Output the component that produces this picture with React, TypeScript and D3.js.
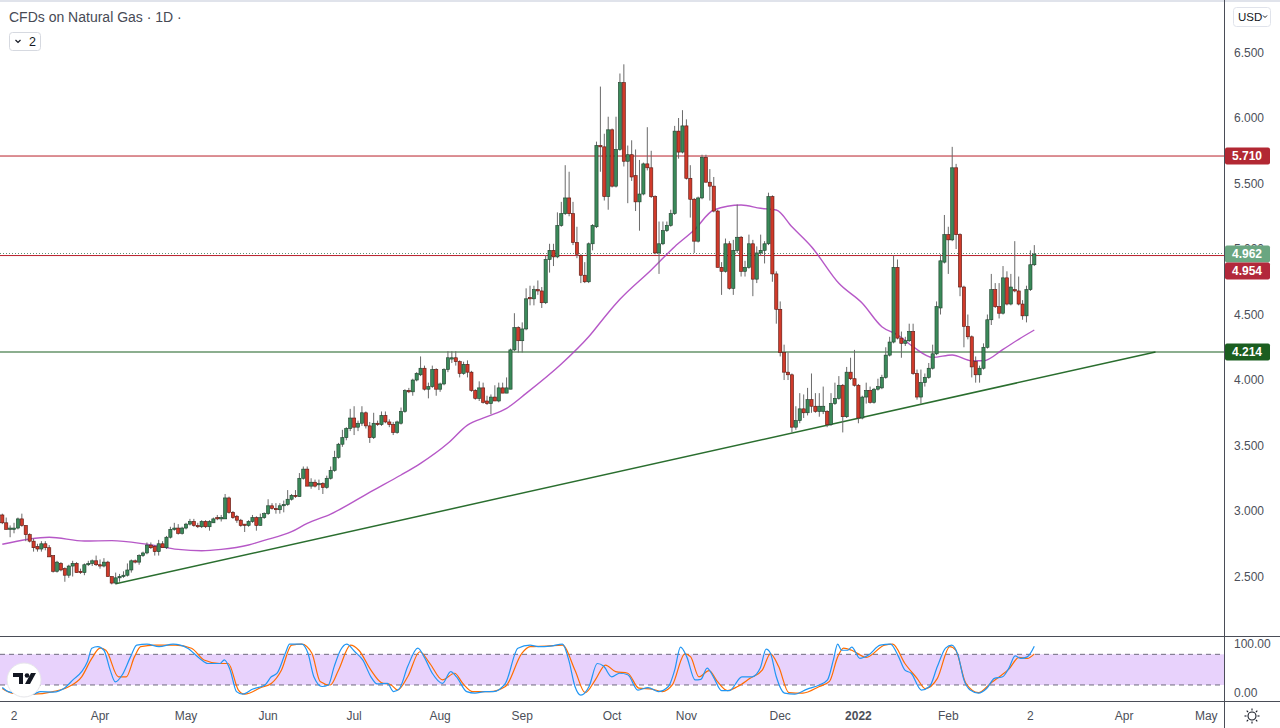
import React from 'react';
import * as d3 from 'd3';

const W = 1280;
const H = 728;
const PANE_RIGHT = 1224.5;
const MAIN_BOTTOM = 636;
const OSC_BOTTOM = 701;

// OHLC daily candles (open, high, low, close)
const candles: [number, number, number, number][] = [
  [2.97,2.98,2.90,2.91],[2.91,2.95,2.86,2.86],[2.86,2.89,2.80,2.87],[2.86,2.91,2.83,2.87],[2.87,2.95,2.86,2.94],
  [2.94,2.98,2.88,2.89],[2.89,2.89,2.77,2.82],[2.82,2.83,2.76,2.77],[2.77,2.79,2.69,2.72],[2.73,2.75,2.69,2.71],
  [2.71,2.77,2.69,2.75],[2.75,2.77,2.70,2.72],[2.72,2.74,2.65,2.65],[2.66,2.66,2.53,2.54],[2.54,2.62,2.53,2.61],
  [2.60,2.61,2.54,2.55],[2.56,2.57,2.46,2.51],[2.51,2.59,2.49,2.58],[2.58,2.62,2.50,2.60],[2.60,2.61,2.53,2.53],
  [2.54,2.56,2.52,2.53],[2.53,2.60,2.51,2.59],[2.59,2.62,2.58,2.60],[2.60,2.63,2.58,2.62],[2.62,2.66,2.58,2.59],
  [2.59,2.63,2.56,2.58],[2.58,2.64,2.57,2.61],[2.61,2.62,2.50,2.50],[2.50,2.50,2.44,2.45],[2.45,2.53,2.44,2.49],
  [2.49,2.52,2.46,2.50],[2.50,2.54,2.49,2.51],[2.51,2.60,2.50,2.55],[2.55,2.63,2.53,2.62],[2.62,2.63,2.60,2.61],
  [2.61,2.67,2.59,2.66],[2.66,2.69,2.65,2.68],[2.68,2.76,2.67,2.74],[2.74,2.76,2.71,2.72],[2.73,2.74,2.66,2.69],
  [2.69,2.78,2.66,2.75],[2.75,2.77,2.72,2.72],[2.72,2.81,2.71,2.80],[2.80,2.88,2.79,2.86],[2.86,2.91,2.85,2.87],
  [2.87,2.90,2.82,2.83],[2.83,2.88,2.82,2.87],[2.87,2.91,2.86,2.90],[2.90,2.94,2.89,2.92],[2.92,2.94,2.88,2.89],
  [2.89,2.91,2.87,2.88],[2.88,2.93,2.87,2.92],[2.92,2.93,2.87,2.88],[2.88,2.93,2.85,2.92],[2.91,2.95,2.91,2.94],
  [2.95,2.97,2.93,2.94],[2.94,2.97,2.92,2.95],[2.94,3.13,2.94,3.10],[3.10,3.11,2.98,2.99],[2.99,3.00,2.94,2.95],
  [2.96,2.97,2.91,2.93],[2.93,2.94,2.88,2.89],[2.90,2.90,2.84,2.89],[2.89,2.93,2.88,2.92],[2.92,2.97,2.91,2.95],
  [2.95,2.96,2.85,2.89],[2.89,2.98,2.89,2.95],[2.95,2.99,2.94,2.98],[2.98,3.09,2.97,3.04],[3.04,3.06,3.01,3.02],
  [3.02,3.06,2.98,3.01],[3.01,3.06,2.98,3.04],[3.04,3.08,2.99,3.05],[3.05,3.16,3.04,3.09],[3.09,3.13,3.08,3.12],
  [3.12,3.16,3.10,3.11],[3.11,3.29,3.11,3.25],[3.25,3.34,3.24,3.32],[3.32,3.34,3.19,3.19],[3.19,3.25,3.17,3.22],
  [3.22,3.24,3.18,3.19],[3.20,3.24,3.16,3.21],[3.21,3.22,3.13,3.18],[3.18,3.27,3.17,3.25],[3.25,3.34,3.24,3.31],
  [3.31,3.46,3.30,3.41],[3.41,3.52,3.40,3.51],[3.51,3.62,3.49,3.56],[3.56,3.64,3.54,3.63],[3.63,3.78,3.61,3.71],
  [3.71,3.80,3.58,3.64],[3.64,3.69,3.61,3.67],[3.67,3.80,3.65,3.75],[3.75,3.76,3.63,3.65],[3.65,3.68,3.52,3.56],
  [3.56,3.75,3.55,3.67],[3.67,3.69,3.65,3.66],[3.66,3.76,3.65,3.73],[3.73,3.76,3.67,3.68],[3.68,3.70,3.64,3.66],
  [3.66,3.68,3.58,3.60],[3.60,3.69,3.59,3.68],[3.67,3.79,3.66,3.76],[3.76,3.93,3.75,3.92],[3.92,3.94,3.90,3.91],
  [3.91,4.01,3.88,4.00],[4.00,4.06,3.99,4.05],[4.04,4.18,4.03,4.09],[4.09,4.11,3.92,3.93],[3.93,3.98,3.86,3.95],
  [3.95,4.11,3.94,4.08],[4.08,4.09,3.88,3.93],[3.93,3.98,3.91,3.97],[3.97,4.09,3.96,4.08],[4.08,4.22,4.06,4.17],
  [4.16,4.22,4.13,4.17],[4.17,4.22,4.11,4.14],[4.14,4.15,4.02,4.05],[4.05,4.14,4.04,4.12],[4.12,4.15,4.02,4.06],
  [4.06,4.07,3.91,3.92],[3.92,3.93,3.85,3.86],[3.86,3.99,3.84,3.94],[3.94,3.98,3.82,3.83],[3.84,3.88,3.81,3.82],
  [3.82,3.89,3.74,3.87],[3.87,3.96,3.84,3.84],[3.84,3.98,3.83,3.94],[3.94,3.98,3.90,3.90],[3.90,4.02,3.90,3.94],
  [3.93,4.24,3.93,4.23],[4.23,4.51,4.22,4.40],[4.40,4.41,4.21,4.30],[4.30,4.44,4.21,4.39],[4.39,4.70,4.38,4.62],
  [4.63,4.72,4.57,4.62],[4.62,4.72,4.57,4.69],[4.69,4.76,4.65,4.68],[4.68,4.71,4.55,4.59],[4.59,4.95,4.58,4.92],
  [4.92,5.04,4.82,4.99],[4.99,5.04,4.87,4.94],[4.94,5.28,4.93,5.18],[5.18,5.36,5.17,5.27],[5.27,5.64,5.26,5.39],
  [5.39,5.59,5.25,5.27],[5.27,5.36,5.03,5.05],[5.05,5.17,4.93,4.96],[4.95,4.96,4.74,4.80],[4.80,4.90,4.74,4.75],
  [4.75,5.05,4.74,5.04],[5.04,5.19,4.99,5.18],[5.17,5.82,5.16,5.79],[5.79,6.24,5.59,5.78],[5.78,5.88,5.37,5.40],
  [5.40,6.01,5.30,5.91],[5.91,5.92,5.47,5.48],[5.48,6.01,5.47,5.76],[5.76,6.34,5.75,6.27],[6.27,6.41,5.63,5.67],
  [5.67,5.79,5.35,5.72],[5.72,5.83,5.52,5.55],[5.56,5.76,5.29,5.36],[5.36,5.68,5.14,5.42],[5.42,5.66,5.41,5.65],
  [5.65,5.93,5.60,5.62],[5.62,5.75,5.39,5.40],[5.40,5.41,4.96,4.97],[4.97,5.21,4.81,5.04],[5.04,5.21,5.03,5.14],
  [5.14,5.21,5.13,5.18],[5.18,5.30,5.17,5.27],[5.27,5.94,5.26,5.90],[5.90,6.00,5.69,5.74],[5.74,6.06,5.73,5.94],
  [5.94,5.99,5.53,5.54],[5.54,5.64,5.24,5.38],[5.38,5.39,4.97,5.06],[5.06,5.40,5.05,5.39],[5.39,5.72,5.38,5.70],
  [5.70,5.72,5.51,5.51],[5.51,5.61,5.37,5.48],[5.48,5.55,5.28,5.29],[5.29,5.30,4.86,4.86],[4.86,4.90,4.65,4.83],
  [4.83,5.08,4.82,5.04],[5.04,5.06,4.69,4.70],[4.70,5.07,4.65,4.99],[4.99,5.34,4.97,5.09],[5.09,5.10,4.79,4.83],
  [4.83,4.91,4.79,4.86],[4.86,5.11,4.85,5.04],[5.04,5.07,4.64,4.77],[4.77,5.02,4.74,4.97],[4.97,5.11,4.95,4.99],
  [4.99,5.06,4.89,5.04],[5.04,5.43,5.03,5.40],[5.40,5.41,4.75,4.81],[4.81,4.83,4.43,4.54],[4.54,4.60,4.18,4.21],
  [4.21,4.27,4.00,4.06],[4.06,4.21,4.00,4.04],[4.04,4.05,3.60,3.64],[3.64,3.80,3.62,3.69],[3.69,3.90,3.67,3.78],
  [3.78,3.89,3.71,3.75],[3.75,3.94,3.73,3.85],[3.85,4.05,3.75,3.80],[3.80,3.90,3.75,3.76],[3.76,3.90,3.72,3.80],
  [3.76,3.95,3.74,3.80],[3.76,3.77,3.64,3.66],[3.66,3.90,3.65,3.82],[3.82,3.98,3.81,3.86],[3.86,4.03,3.85,3.96],
  [3.96,3.97,3.60,3.72],[3.72,4.10,3.71,4.06],[4.06,4.17,4.00,4.01],[4.01,4.23,3.95,3.96],[3.96,3.97,3.67,3.71],
  [3.71,3.88,3.70,3.87],[3.87,3.98,3.82,3.92],[3.92,3.95,3.82,3.83],[3.83,3.94,3.82,3.93],[3.93,4.01,3.92,3.95],
  [3.94,4.04,3.93,4.02],[4.02,4.25,4.01,4.19],[4.19,4.33,4.18,4.29],[4.29,4.95,4.28,4.86],[4.86,4.92,4.31,4.32],
  [4.32,4.37,4.17,4.28],[4.28,4.33,4.26,4.30],[4.30,4.43,4.29,4.37],[4.37,4.43,4.04,4.05],[4.05,4.08,3.85,3.87],
  [3.87,4.08,3.82,3.98],[3.98,4.05,3.95,4.02],[4.02,4.13,4.01,4.09],[4.09,4.27,4.08,4.20],[4.20,4.60,4.19,4.56],
  [4.55,4.96,4.50,4.91],[4.90,5.26,4.89,5.11],[5.11,5.17,4.81,5.07],[5.07,5.78,5.06,5.62],[5.62,5.65,5.00,5.11],
  [5.11,5.12,4.64,4.71],[4.71,4.72,4.25,4.41],[4.41,4.50,4.31,4.33],[4.33,4.34,4.02,4.10],[4.14,4.18,3.98,4.04],
  [4.04,4.11,3.98,4.09],[4.09,4.28,4.08,4.25],[4.25,4.50,4.24,4.46],[4.46,4.81,4.42,4.69],[4.69,4.74,4.55,4.56],
  [4.56,4.74,4.47,4.51],[4.51,4.87,4.50,4.78],[4.78,4.83,4.57,4.58],[4.58,4.81,4.57,4.71],[4.69,5.06,4.67,4.68],
  [4.68,4.79,4.57,4.58],[4.58,4.61,4.46,4.49],[4.49,4.72,4.44,4.69],[4.69,4.99,4.68,4.88],[4.88,5.03,4.87,4.962],
];

// Moving average (bar index, value)
const movingAverage: [number, number][] = [
  [0,2.746],[12,2.800],[21,2.771],[28,2.774],[37,2.746],[45,2.707],[51,2.697],[56,2.707],[63,2.741],[67,2.776],
  [74,2.842],[78,2.906],[84,2.977],[95,3.160],[102,3.275],[107,3.364],[114,3.517],[119,3.656],[124,3.720],
  [129,3.784],[134,3.898],[143,4.122],[150,4.330],[155,4.514],[158,4.616],[166,4.840],[172,5.018],[177,5.145],
  [182,5.298],[189,5.336],[194,5.311],[198,5.298],[202,5.170],[207,5.018],[214,4.738],[220,4.586],[225,4.407],
  [229,4.344],[233,4.254],[238,4.173],[243,4.191],[248,4.147],[251,4.147],[256,4.234],[260,4.311],[264,4.382],
];

// Stochastic %K (blue) and %D (orange): (bar index, value)
const stochK: [number, number][] = [
  [0,15],[1.5,7],[3.6,4],[7.8,2],[9.8,7],[13,6],[16.1,15],[18.2,31],[20.3,46],[21.8,66],[22.9,92],[24.4,95],[26,88],
  [27.6,49],[28.9,26],[30.7,40],[32.8,75],[34.4,98],[37,100],[40.1,95],[43.7,100],[47.4,92],[50.5,72],[52.6,62],
  [55.7,62],[56.8,69],[58.3,49],[59.9,7],[61.5,2],[64.1,12],[67.2,20],[68.8,36],[70.3,43],[72.4,82],[73.5,100],
  [76.6,100],[78.2,82],[79.7,36],[81.8,17],[83.4,20],[84.9,56],[86.5,88],[88.1,100],[90.2,85],[92.2,69],[94.3,36],
  [95.9,22],[98.5,23],[100.1,7],[101.6,13],[103.7,56],[106.3,92],[107.9,75],[110,43],[112.6,23],[114.7,46],
  [116.2,36],[118.8,7],[120.9,4],[123.5,7],[125.6,7],[128.7,23],[131.9,92],[135,98],[137.1,95],[140.2,96],
  [143.3,100],[144.9,69],[146.5,17],[148,0],[150.1,17],[152.2,62],[153.8,57],[155.9,36],[157.9,43],[160,40],
  [162.6,10],[165.2,15],[167.8,7],[170.4,17],[172,49],[173.5,94],[175.1,75],[177.2,30],[178.7,31],[180.3,53],
  [181.9,36],[184,9],[186,9],[189.2,36],[191.8,36],[193.9,53],[195.4,90],[196.5,82],[198,36],[200.1,4],[202.7,2],
  [205.9,12],[209,20],[211.1,30],[212.6,69],[213.7,100],[214.7,88],[216.3,88],[217.3,94],[219.4,72],[221.5,78],
  [224.6,98],[227.2,100],[229.3,75],[230.9,49],[232.5,43],[235.1,10],[237.2,17],[239.2,56],[241.3,92],[242.9,98],
  [244.5,78],[246,30],[247.6,10],[249.7,4],[251.8,13],[253.8,33],[255.9,36],[257.5,53],[259.1,77],[260.6,72],
  [262.2,75],[264,96],
];
const stochD: [number, number][] = [
  [0,13],[2.5,4],[7.8,2],[13,7],[17.1,17],[20.3,36],[22.9,72],[25,92],[26.5,88],[29.7,36],[31.7,36],[33.8,75],
  [35.4,95],[39,98],[44.3,98],[48.4,92],[51.6,69],[55.7,62],[57.8,62],[60.4,10],[62,2],[66.2,15],[68.8,23],
  [71.4,49],[74,98],[76.6,100],[79.2,82],[81.3,27],[83.9,20],[86,49],[89.1,98],[91.2,88],[94.3,49],[96.9,25],
  [99.5,20],[101.1,10],[103.7,36],[106.8,85],[109.4,62],[112.6,30],[115.7,43],[117.8,23],[120.4,7],[124.6,7],
  [128.7,17],[132.9,82],[135,95],[139.2,96],[143.3,98],[146.5,49],[149.1,5],[151.7,30],[154.3,59],[156.9,46],
  [160,43],[162.8,14],[166.2,12],[168.8,7],[171.4,20],[174.6,81],[176.1,75],[178.2,36],[180.8,48],[182.9,27],
  [185.5,9],[188.1,17],[191.3,33],[194.4,49],[196.5,81],[198.6,56],[201.2,5],[204.8,4],[209,17],[211.6,27],
  [213.7,75],[215.2,92],[217.3,88],[221,74],[225.7,98],[227.8,100],[230.9,62],[234,33],[236.1,13],[239.2,33],
  [242.4,95],[243.9,88],[246.5,23],[249.7,5],[252.8,23],[254.9,35],[257.5,51],[260.1,74],[262.2,72],[264,81],
];

// Trendline anchors (bar index, price)
const trendline: [number, number][] = [[29, 2.445], [295, 4.214]];

const priceTicks = [2.5, 3, 3.5, 4, 4.5, 5, 5.5, 6, 6.5];
const timeTickIdx = [3, 25, 47, 68, 90, 112, 133, 156, 175, 199, 219, 242, 263, 287, 308];
const timeTickLabels = ['2', 'Apr', 'May', 'Jun', 'Jul', 'Aug', 'Sep', 'Oct', 'Nov', 'Dec', '2022', 'Feb', '2', 'Apr', 'May'];

const resistance = 5.710;
const support = 4.214;
const redLevel = 4.954;
const lastPrice = 4.962;

const FONT = '"Liberation Sans", Arial, sans-serif';

export default function App() {
  const x = d3.scaleLinear().domain([0, candles.length - 1]).range([2.3, 1034.3]);
  const y = d3.scaleLinear().domain([2.046, 6.901]).range([MAIN_BOTTOM, 0]);
  const yo = d3.scaleLinear().domain([0, 100]).range([695.2, 644.1]);

  const maPath = d3.line<[number, number]>().x(d => x(d[0])).y(d => y(d[1])).curve(d3.curveMonotoneX)(movingAverage) || '';
  const kPath = d3.line<[number, number]>().x(d => x(d[0])).y(d => yo(d[1])).curve(d3.curveMonotoneX)(stochK) || '';
  const dPath = d3.line<[number, number]>().x(d => x(d[0])).y(d => yo(d[1])).curve(d3.curveMonotoneX)(stochD) || '';
  const trendPath = d3.line<[number, number]>().x(d => x(d[0])).y(d => y(d[1]))(trendline) || '';

  const bodyW = 3.2;

  // right-axis price labels with collision avoidance
  const labelDefs = [
    { v: resistance, color: '#b22833' },
    { v: lastPrice, color: '#6aa681' },
    { v: redLevel, color: '#b2283b' },
    { v: support, color: '#1b5e20' },
  ];
  const placed: { v: number; color: string; cy: number }[] = [];
  labelDefs
    .map(l => ({ ...l, cy: y(l.v) }))
    .sort((a, b) => a.cy - b.cy)
    .forEach(l => {
      const prev = placed[placed.length - 1];
      const cy = prev && l.cy < prev.cy + 17 ? prev.cy + 17 : l.cy;
      placed.push({ ...l, cy });
    });

  return (
    <div style={{ position: 'absolute', left: 0, top: 0 }}>
      <svg width={W} height={H} style={{ display: 'block', background: '#fff', fontFamily: FONT }}>
        <defs>
          <clipPath id="mainClip">
            <rect x={0} y={0} width={PANE_RIGHT} height={MAIN_BOTTOM} />
          </clipPath>
          <clipPath id="oscClip">
            <rect x={0} y={MAIN_BOTTOM + 1} width={PANE_RIGHT} height={OSC_BOTTOM - MAIN_BOTTOM - 1} />
          </clipPath>
        </defs>
        <rect x={0} y={0} width={W} height={2} fill="#e0e3eb" />

        <g clipPath="url(#mainClip)">
          {/* trendline */}
          <path d={trendPath} fill="none" stroke="#2a6e2f" strokeWidth={1.5} />
          {/* horizontal levels */}
          <line x1={0} x2={PANE_RIGHT} y1={y(resistance)} y2={y(resistance)} stroke="#b81f2a" strokeWidth={1} />
          <line x1={0} x2={PANE_RIGHT} y1={y(support)} y2={y(support)} stroke="#1b5e20" strokeWidth={1.2} />
          <line x1={0} x2={PANE_RIGHT} y1={y(redLevel) + 0.5} y2={y(redLevel) + 0.5} stroke="#b81f2a" strokeWidth={1} />
          <line x1={0} x2={PANE_RIGHT} y1={y(lastPrice) - 0.5} y2={y(lastPrice) - 0.5} stroke="#5f8f72" strokeWidth={1} strokeDasharray="1 2" />
          {/* moving average */}
          <path d={maPath} fill="none" stroke="#a93bbd" strokeOpacity={0.85} strokeWidth={1.4} />
          {/* candles */}
          {candles.map((c, i) => {
            const [o, h, l, cl] = c;
            const up = cl >= o;
            const cx = x(i);
            const top = y(Math.max(o, cl));
            const bot = y(Math.min(o, cl));
            return (
              <g key={i}>
                <line x1={cx} x2={cx} y1={y(h)} y2={y(l)} stroke="#6a6a6a" strokeWidth={1} />
                <rect
                  x={cx - bodyW / 2}
                  y={top}
                  width={bodyW}
                  height={Math.max(1, bot - top)}
                  fill={up ? '#3b8a5a' : '#d03a2a'}
                  stroke={up ? '#1d3f2b' : '#561610'}
                  strokeWidth={0.6}
                />
              </g>
            );
          })}
        </g>

        {/* oscillator pane */}
        <rect x={0} y={yo(80)} width={PANE_RIGHT} height={yo(20) - yo(80)} fill="#e8d2fc" />
        <line x1={0} x2={PANE_RIGHT} y1={yo(80)} y2={yo(80)} stroke="#6f6a7e" strokeDasharray="5 4" />
        <line x1={0} x2={PANE_RIGHT} y1={yo(20)} y2={yo(20)} stroke="#6f6a7e" strokeDasharray="5 4" />
        <g clipPath="url(#oscClip)">
          <path d={dPath} fill="none" stroke="#ff6d00" strokeWidth={1.2} />
          <path d={kPath} fill="none" stroke="#2196f3" strokeWidth={1.2} />
        </g>

        {/* TradingView logo */}
        <g>
          <circle cx={24} cy={680} r={17} fill="#fff" stroke="#e6e6ea" strokeWidth={1} />
          <path d="M13 673 h10 v11 h-4 v-7 h-6 z" fill="#131722" />
          <circle cx={27} cy={675.5} r={2.3} fill="#131722" />
          <path d="M31 673 h5 l-6 11 h-5 z" fill="#131722" />
        </g>

        {/* separators and axis line */}
        <line x1={0} x2={W} y1={MAIN_BOTTOM + 0.5} y2={MAIN_BOTTOM + 0.5} stroke="#4a4d57" strokeWidth={1} />
        <line x1={0} x2={W} y1={OSC_BOTTOM + 0.5} y2={OSC_BOTTOM + 0.5} stroke="#4a4d57" strokeWidth={1} />
        <line x1={PANE_RIGHT} x2={PANE_RIGHT} y1={0} y2={H} stroke="#4a4d57" strokeWidth={1} />

        {/* price axis ticks */}
        {priceTicks.map(t => (
          <text key={t} x={1234} y={y(t)} dy="0.35em" fontSize={12} fill="#4c4f59">
            {d3.format('.3f')(t)}
          </text>
        ))}
        <text x={1234} y={yo(100)} dy="0.35em" fontSize={12} fill="#4c4f59">100.00</text>
        <text x={1234} y={yo(0) - 2} dy="0.35em" fontSize={12} fill="#4c4f59">0.00</text>

        {/* price labels */}
        {placed.map(l => (
          <g key={l.v}>
            <rect x={PANE_RIGHT + 0.5} y={l.cy - 8.5} width={45} height={17} rx={2} fill={l.color} />
            <text x={1232} y={l.cy} dy="0.35em" fontSize={12} fontWeight="bold" fill="#fff">
              {d3.format('.3f')(l.v)}
            </text>
          </g>
        ))}

        {/* time axis */}
        {timeTickIdx.map((t, i) => (
          <text
            key={i}
            x={x(t)}
            y={716}
            dy="0.35em"
            textAnchor="middle"
            fontSize={12}
            fontWeight={timeTickLabels[i] === '2022' ? 'bold' : 'normal'}
            fill="#4c4f59"
          >
            {timeTickLabels[i]}
          </text>
        ))}

        {/* settings sun icon */}
        <g stroke="#131722" strokeWidth={1.1} fill="none">
          <circle cx={1252} cy={716} r={4} />
          {d3.range(8).map(k => {
            const a = (k * Math.PI) / 4;
            return (
              <line
                key={k}
                x1={1252 + Math.cos(a) * 5.5}
                y1={716 + Math.sin(a) * 5.5}
                x2={1252 + Math.cos(a) * 7.5}
                y2={716 + Math.sin(a) * 7.5}
              />
            );
          })}
        </g>

        {/* header */}
        <text x={9} y={22} fontSize={14} fill="#474a55">CFDs on Natural Gas · 1D ·</text>
        <rect x={9.5} y={32.5} width={31} height={18} rx={3} fill="#fff" stroke="#d6d9e0" />
        <path d="M15.5 40 l2.5 2.5 l2.5 -2.5" fill="none" stroke="#131722" strokeWidth={1.2} />
        <text x={29} y={46} fontSize={12.5} fill="#131722">2</text>

        {/* currency button */}
        <rect x={1233.5} y={7.5} width={37} height={19} rx={3} fill="#fff" stroke="#e0e3eb" />
        <text x={1238} y={17} dy="0.35em" fontSize={11.5} fill="#131722">USD</text>
        <path d="M1263 15.5 l2 2 l2 -2" fill="none" stroke="#131722" strokeWidth={1} />
      </svg>
    </div>
  );
}
